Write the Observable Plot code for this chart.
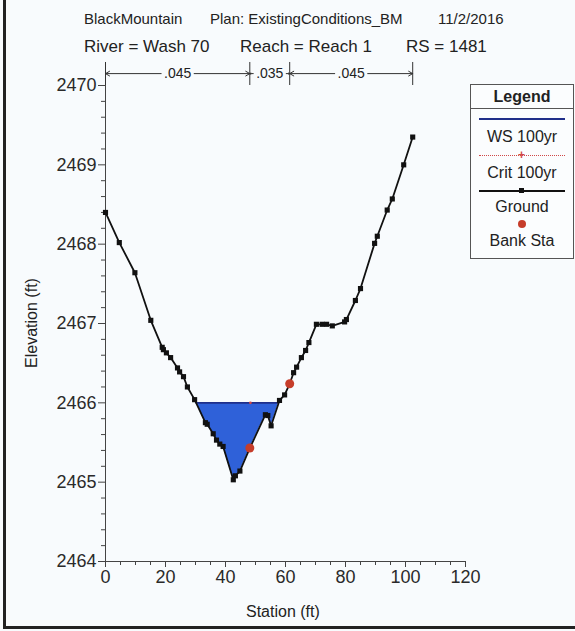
<!DOCTYPE html>
<html><head><meta charset="utf-8">
<script src="https://cdn.jsdelivr.net/npm/d3@7"></script>
<script src="https://cdn.jsdelivr.net/npm/@observablehq/plot@0.6"></script>
<style>
body{margin:0;background:#f8fbfd;}
#wrap{position:relative;width:575px;height:631px;overflow:hidden;font-family:Arial,"Liberation Sans",sans-serif;color:#222;background:#f8fbfd;}
.t{position:absolute;white-space:nowrap;line-height:1;}
#plot{position:absolute;left:0;top:0;}
#legend{position:absolute;left:470px;top:84px;width:102px;height:173px;border:1px solid #555;background:#fbfdfe;}
#legend .row{position:absolute;left:0;width:102px;text-align:center;font-size:16px;line-height:1;}
</style></head><body>
<div id="wrap">
  <div id="plot"></div>
  <div class="t" style="left:84px;top:11px;font-size:15px">BlackMountain</div>
  <div class="t" style="left:210px;top:11px;font-size:15px">Plan: ExistingConditions_BM</div>
  <div class="t" style="left:438px;top:11px;font-size:15px">11/2/2016</div>
  <div class="t" style="left:84px;top:38px;font-size:17px">River = Wash 70</div>
  <div class="t" style="left:240px;top:38px;font-size:17px">Reach = Reach 1</div>
  <div class="t" style="left:406px;top:38px;font-size:17px">RS = 1481</div>
  <div class="t" style="left:246px;top:604px;font-size:16px">Station (ft)</div>
  <div class="t" style="left:32px;top:323px;font-size:16px;transform:translate(-50%,-50%) rotate(-90deg)">Elevation (ft)</div>
  <div id="legend">
    <div class="row" style="top:4px;font-weight:bold;">Legend</div>
    <div style="position:absolute;left:0;top:23px;width:102px;border-top:1px solid #555"></div>
    <div style="position:absolute;left:8px;top:33px;width:86px;height:2px;background:#1f2f8a"></div>
    <div class="row" style="top:44px">WS 100yr</div>
    <div style="position:absolute;left:8px;top:70px;width:86px;border-top:1px dotted #d04848"></div>
    <div style="position:absolute;left:47px;top:64px;color:#d04848;font-size:12px;line-height:1;font-weight:bold">+</div>
    <div class="row" style="top:80px">Crit 100yr</div>
    <div style="position:absolute;left:8px;top:105px;width:86px;height:1.6px;background:#111"></div>
    <div style="position:absolute;left:48px;top:103px;width:5px;height:5px;background:#111"></div>
    <div class="row" style="top:114px">Ground</div>
    <div style="position:absolute;left:47px;top:135px;width:8px;height:8px;border-radius:50%;background:#c63d2a"></div>
    <div class="row" style="top:148px">Bank Sta</div>
  </div>
  <div style="position:absolute;left:3px;top:0;width:3px;height:629px;background:#222"></div>
  <div style="position:absolute;left:3px;top:626px;width:572px;height:3px;background:#222"></div>
</div>
<script>
// Ground profile (station ft, elevation ft)
const groundSta = [0, 4.6, 9.8, 15.1, 18.9, 19.3, 20.3, 21.7, 24.0, 24.7, 26.0, 27.3, 29.7,
  33.3, 33.9, 35.9, 37.0, 38.1, 39.2, 42.6, 43.3, 44.8, 48.1, 53.3, 54.1, 55.2, 58.0, 59.7, 61.4,
  62.7, 63.7, 65.3, 66.7, 67.8, 70.3, 72.2, 73.7, 75.6, 79.7, 80.3, 83.3, 85.0, 89.7, 90.6, 93.9, 95.6, 99.4, 102.4];
const groundElev = [2468.40, 2468.02, 2467.64, 2467.04, 2466.70, 2466.67, 2466.63, 2466.57, 2466.44, 2466.39, 2466.33, 2466.20, 2466.04,
  2465.75, 2465.73, 2465.61, 2465.53, 2465.48, 2465.45, 2465.03, 2465.08, 2465.14, 2465.43, 2465.85, 2465.84, 2465.71, 2466.03, 2466.10, 2466.24,
  2466.38, 2466.45, 2466.57, 2466.66, 2466.76, 2466.99, 2466.99, 2466.99, 2466.97, 2467.02, 2467.05, 2467.29, 2467.44, 2468.01, 2468.10, 2468.43, 2468.57, 2469.00, 2469.35];
// Bank stations
const bankSta = [48.1, 61.4];
const bankElev = [2465.43, 2466.24];
// Water surface (100yr) and critical
const wsElev = 2466.0;
const critSta = [48.3];
const critElev = [2466.0];
// Manning's n breaks
const nBreaks = [0, 48.1, 61.4, 102.4];
const nValues = [".045", ".035", ".045"];
// Axis ticks
const xTicks = [0, 20, 40, 60, 80, 100, 120];
const yTicks = [2464, 2465, 2466, 2467, 2468, 2469, 2470];

const ground = groundSta.map((x, i) => ({x, y: groundElev[i]}));
const banks = bankSta.map((x, i) => ({x, y: bankElev[i]}));
const crit = critSta.map((x, i) => ({x, y: critElev[i]}));

// water polygon: ground points below WS plus the crossing points
const water = [];
for (let i = 0; i < ground.length - 1; i++) {
  const a = ground[i], b = ground[i + 1];
  if (a.y <= wsElev) water.push({x: a.x, g: a.y});
  if ((a.y - wsElev) * (b.y - wsElev) < 0) {
    const t = (wsElev - a.y) / (b.y - a.y);
    water.push({x: a.x + t * (b.x - a.x), g: wsElev});
  }
}
const wsX1 = water[0].x, wsX2 = water[water.length - 1].x;

const xMinor = d3.range(0, 121, 5).filter(d => d % 20 !== 0);
const yMinor = d3.range(0, 31).map(i => 2464 + i * 0.2).filter((d, i) => i % 5 !== 0);

const nTop = 2470.15;
const segs = nValues.map((v, i) => {
  const a = nBreaks[i], b = nBreaks[i + 1], m = (a + b) / 2;
  return {a, b, m, v, hw: 5.5};
});
const arrows = segs.flatMap(s => [
  {x1: s.m - s.hw, x2: s.a}, {x1: s.m + s.hw, x2: s.b}
]);

const chart = Plot.plot({
  width: 575, height: 631,
  marginLeft: 105, marginRight: 110, marginTop: 85, marginBottom: 70,
  style: {background: "transparent", fontFamily: "Arial, 'Liberation Sans', sans-serif", color: "#222", overflow: "visible"},
  x: {domain: [0, 120]},
  y: {domain: [2464, 2470]},
  marks: [
    Plot.areaY(water, {x: "x", y1: "g", y2: wsElev, fill: "#2f61d9", curve: "linear"}),
    Plot.ruleY([wsElev], {x1: wsX1, x2: wsX2, stroke: "#1f2f8a", strokeWidth: 1.6}),
    Plot.dot(crit, {x: "x", y: "y", r: 1.4, fill: "#d04848"}),
    Plot.ruleX([0], {stroke: "#444", strokeWidth: 1}),
    Plot.ruleY([2464], {stroke: "#444", strokeWidth: 1}),
    Plot.axisY({ticks: yMinor, tickSize: 4, tickFormat: () => "", stroke: "#444", label: null}),
    Plot.axisY({ticks: yTicks, tickSize: 7, tickFormat: d => String(d), fontSize: 18, tickPadding: 2, stroke: "#444", fill: "#2a2a2a", label: null}),
    Plot.axisX({ticks: xMinor, tickSize: 4, tickFormat: () => "", stroke: "#444", label: null}),
    Plot.axisX({ticks: xTicks, tickSize: 6, tickFormat: d => String(d), fontSize: 18, tickPadding: 3, stroke: "#444", fill: "#2a2a2a", label: null}),
    Plot.line(ground, {x: "x", y: "y", stroke: "#111", strokeWidth: 1.8}),
    Plot.dot(ground, {x: "x", y: "y", symbol: "square", r: 2.9, fill: "#111"}),
    Plot.dot(banks, {x: "x", y: "y", r: 4.5, fill: "#c63d2a"}),
    Plot.ruleX(nBreaks, {y1: 2470.0, y2: 2470.29, stroke: "#333", strokeWidth: 1, clip: false}),
    Plot.arrow(arrows, {x1: "x1", x2: "x2", y1: nTop, y2: nTop, stroke: "#333", strokeWidth: 1, headLength: 7, clip: false}),
    Plot.text(segs, {x: "m", y: nTop, text: "v", fontSize: 14, fill: "#222", clip: false})
  ]
});
document.getElementById("plot").appendChild(chart);
</script>
</body></html>
